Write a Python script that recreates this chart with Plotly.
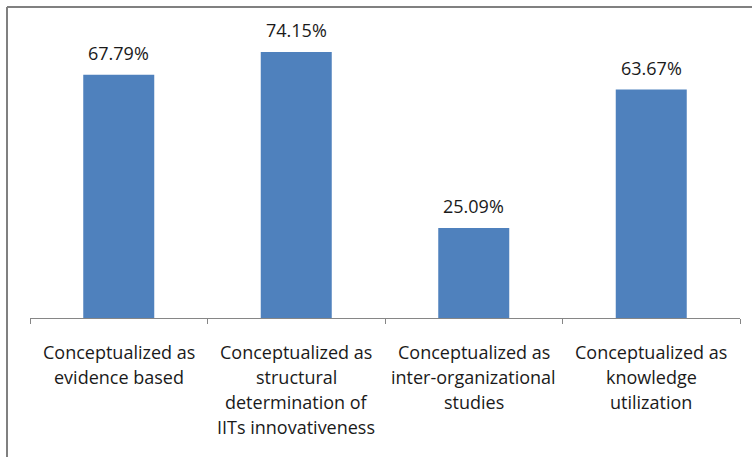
import plotly.graph_objects as go

categories = ["Conceptualized as<br>evidence based",
              "Conceptualized as<br>structural<br>determination of<br>IITs innovativeness",
              "Conceptualized as<br>inter-organizational<br>studies",
              "Conceptualized as<br>knowledge<br>utilization"]
values = [67.79, 74.15, 25.09, 63.67]
value_labels = ["67.79%", "74.15%", "25.09%", "63.67%"]

W, H = 752, 457
ml, mr, mt, mb = 30, 12, 31, 139
pw, ph = W - ml - mr, H - mt - mb

FONT = "Open Sans"
FS = 18
COLOR = "#1a1a1a"
fig = go.Figure()
fig.add_trace(go.Bar(
    x=categories, y=values,
    marker=dict(color="#4F81BD", line=dict(width=0)),
    cliponaxis=False,
))

annotations = []
for cat, v, lab in zip(categories, values, value_labels):
    annotations.append(dict(
        x=cat, y=v, xref="x", yref="y", text=lab, showarrow=False,
        yshift=22, yanchor="middle", xanchor="center",
        font=dict(family=FONT, size=FS, color=COLOR)))
for cat in categories:
    for j, line in enumerate(cat.split("<br>")):
        annotations.append(dict(
            x=cat, y=0, xref="x", yref="y", text=line, showarrow=False,
            yshift=-(34 + 25 * j), yanchor="middle", xanchor="center",
            font=dict(family=FONT, size=FS, color=COLOR)))

def px2x(px):
    return (px - ml) / pw

def py2y(py):
    return (H - mb - py) / ph

shapes = [
    dict(type="line", xref="paper", yref="paper", x0=px2x(7), x1=px2x(7),
         y0=py2y(7), y1=py2y(460), line=dict(color="#808080", width=2)),
    dict(type="line", xref="paper", yref="paper", x0=px2x(7), x1=px2x(760),
         y0=py2y(7), y1=py2y(7), line=dict(color="#808080", width=2)),
]

fig.update_layout(
    width=W, height=H,
    margin=dict(l=ml, r=mr, t=mt, b=mb),
    paper_bgcolor="white", plot_bgcolor="white",
    bargap=0.6, showlegend=False,
    annotations=annotations, shapes=shapes,
    font=dict(family=FONT),
    xaxis=dict(type="category", showticklabels=False,
               showline=True, linecolor="#868686", linewidth=1,
               ticks="outside", ticklen=5, tickcolor="#868686",
               tickson="boundaries", showgrid=False, zeroline=False),
    yaxis=dict(range=[0, 80], visible=False, showgrid=False),
)
fig.write_html("out.html")
